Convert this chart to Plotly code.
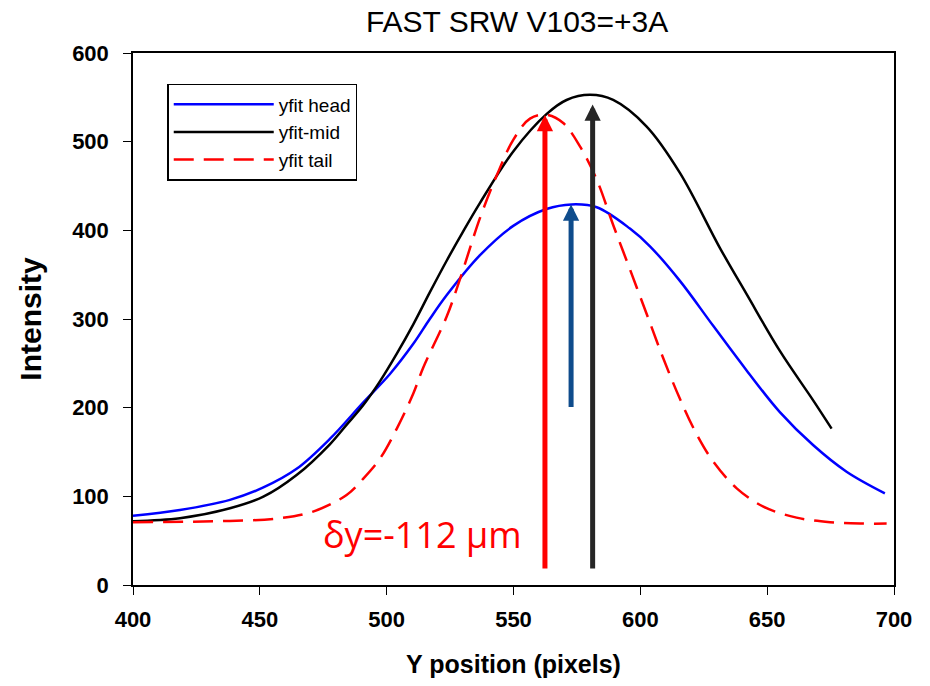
import plotly.graph_objects as go

# ---- data ----
head_x = [400, 418.5, 438.2, 451.4, 464.5, 477.7, 490.8, 501.3, 510.5, 517, 523.7, 536.8, 549.9,
          563, 572.9, 582.8, 595.9, 603.8, 615.6, 628.8, 641.9, 655, 668.2, 681.3, 696.4]
head_y = [78, 84.6, 96, 110, 131, 165, 206, 238, 272, 300, 327, 372, 405,
          424, 429.2, 426, 402, 382, 343, 292, 242, 195, 157.6, 127.8, 103.4]

mid_x = [400, 418.5, 438.2, 451.4, 464.5, 477.7, 484, 490.8, 497.4, 504, 510.5, 517, 523.7, 530,
         536.8, 549.9, 563, 570.9, 580.2, 589.3, 602.5, 615.6, 631.4, 641.9, 655, 668.2, 675.4]
mid_y = [72, 75.3, 86.5, 99.6, 124, 159, 180, 203, 230, 261, 294, 330, 366, 398,
         431, 489, 531, 547, 552.8, 547, 517, 464.8, 380, 328, 264, 208, 176.4]

tail_x = [400, 438.2, 458, 471, 484.2, 490.8, 497.4, 504, 510.5, 514.4, 523.7, 528.9,
          536.8, 543.4, 549.9, 556.5, 563, 569.6, 576.2, 582.8, 589.3, 595.9, 602.5, 609,
          615.6, 622.2, 628.8, 638, 648.5, 661.6, 674.8, 687.9, 697.1]
tail_y = [70.8, 72.3, 75.3, 82.8, 101.5, 120, 142.7, 176.4, 216, 245, 303, 345,
          414, 462, 502, 526, 530.3, 521, 494.7, 457.3, 406, 356, 305.6, 256,
          210, 170, 139, 109, 88.4, 76, 70.8, 69.3, 69.3]

series_names = ["yfit head", "yfit-mid", "yfit tail"]

# peak-marker arrows: x position, base and tip intensity
arrow_x = [562.4, 572.7, 581.2]
arrow_base = [17, 199, 17]
arrow_tip = [530, 429, 542]
arrow_colors = ["#FF0000", "#0F4C8C", "#262626"]

shift_label = "δy=-112 μm"
shift_label_pos = (514.3, 57)

x_ticks = [400, 450, 500, 550, 600, 650, 700]
y_ticks = [0, 100, 200, 300, 400, 500, 600]

fig = go.Figure()
fig.add_trace(go.Scatter(x=head_x, y=head_y, mode="lines", name=series_names[0],
                         line=dict(color="#0000FF", width=2.5, shape="spline")))
fig.add_trace(go.Scatter(x=mid_x, y=mid_y, mode="lines", name=series_names[1],
                         line=dict(color="#000000", width=2.5, shape="spline")))
fig.add_trace(go.Scatter(x=tail_x, y=tail_y, mode="lines", name=series_names[2],
                         line=dict(color="#FF0000", width=2.5, shape="spline",
                                   dash="20px,10px")))

annotations = []
for ax_, b, t, c in zip(arrow_x, arrow_base, arrow_tip, arrow_colors):
    annotations.append(dict(x=ax_, y=t, ax=ax_, ay=b, xref="x", yref="y",
                            axref="x", ayref="y", text="", showarrow=True,
                            arrowhead=2, arrowsize=0.65, arrowwidth=5,
                            arrowcolor=c, standoff=0, startstandoff=0))
annotations.append(dict(x=shift_label_pos[0], y=shift_label_pos[1], xref="x", yref="y",
                        text=shift_label, showarrow=False,
                        font=dict(family="Open Sans", size=36, color="#FF0000"),
                        xanchor="center", yanchor="middle"))

fig.update_layout(
    width=930, height=686,
    margin=dict(l=133, r=36, t=53, b=99),
    paper_bgcolor="white", plot_bgcolor="white",
    title=dict(text="FAST SRW V103=+3A", x=0.556, xref="container", xanchor="center",
               y=0.968, yref="container", yanchor="middle",
               font=dict(family="Liberation Sans", size=30, color="#000000")),
    xaxis=dict(range=[400, 700], tickvals=x_ticks, showgrid=False, zeroline=False,
               showline=True, linecolor="#000000", linewidth=1.5, mirror=True,
               ticks="outside", ticklen=8, tickwidth=1.3, tickcolor="#000000",
               ticklabelstandoff=6,
               tickfont=dict(family="Liberation Sans", size=22, color="#000000", weight="bold"),
               title=dict(text="<b>Y position (pixels)</b>", standoff=24,
                          font=dict(family="Liberation Sans", size=25, color="#000000"))),
    yaxis=dict(range=[0, 600], tickvals=y_ticks, showgrid=False, zeroline=False,
               showline=True, linecolor="#000000", linewidth=1.5, mirror=True,
               ticks="outside", ticklen=8, tickwidth=1.3, tickcolor="#000000",
               ticklabelstandoff=10,
               tickfont=dict(family="Liberation Sans", size=22, color="#000000", weight="bold"),
               title=dict(text="<b>Intensity</b>", standoff=22,
                          font=dict(family="Liberation Sans", size=30, color="#000000"))),
    legend=dict(x=0.045, y=0.942, xanchor="left", yanchor="top",
                bgcolor="white", bordercolor="#000000", borderwidth=1.5,
                font=dict(family="Liberation Sans", size=19, color="#000000"),
                itemwidth=100),
    annotations=annotations,
    showlegend=True,
)

fig.write_html("out.html")
